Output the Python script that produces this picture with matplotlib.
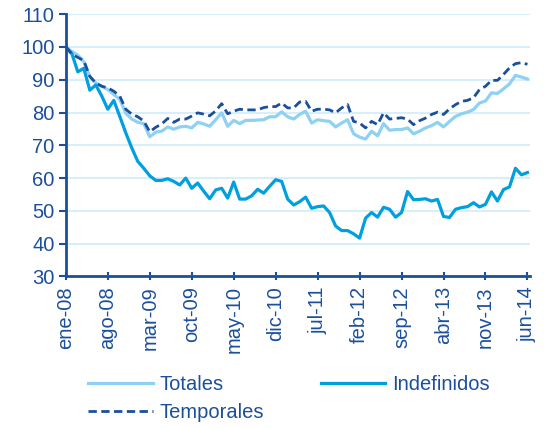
import numpy as np
import matplotlib
matplotlib.use('Agg')
import matplotlib.pyplot as plt

plt.rcParams['font.family'] = ['Liberation Sans', 'DejaVu Sans']

# Monthly index ene-08 .. jun-14 (base 100 = ene-08)
tick_labels = ['ene-08', 'ago-08', 'mar-09', 'oct-09', 'may-10', 'dic-10',
               'jul-11', 'feb-12', 'sep-12', 'abr-13', 'nov-13', 'jun-14']

totales = [100, 98.6, 97.5, 95.5, 91, 89, 88, 87, 85.5, 84,
           79.8, 78, 77, 76.6, 72.6, 74, 74.3, 75.6, 74.9, 75.6,
           75.8, 75.3, 77, 76.5, 75.8, 77.8, 79.9, 75.8, 77.6, 76.6,
           77.6, 77.6, 77.7, 77.8, 78.7, 78.7, 80.2, 78.7, 78, 79.4,
           80.4, 76.8, 77.8, 77.5, 77.3, 75.6, 76.8, 77.8, 73.5, 72.5,
           71.9, 74.3, 72.9, 76.6, 74.6, 74.8, 74.8, 75.3, 73.5, 74.3,
           75.3, 76, 77, 75.6, 77.3, 78.8, 79.6, 80.1, 80.9, 82.9,
           83.5, 86, 85.8, 87.2, 88.7, 91.3, 90.8, 90.2]

indefinidos = [100, 98, 92.4, 93.5, 86.8, 88.4, 85, 81, 83.7, 78.8,
               73.8, 69.2, 65.1, 63, 60.7, 59.3, 59.3, 59.8, 59, 57.9,
               60, 56.9, 58.5, 56, 53.7, 56.4, 56.9, 53.9, 58.8, 53.6,
               53.6, 54.6, 56.6, 55.4, 57.5, 59.5, 59, 53.6, 51.8, 52.8,
               54.2, 50.8, 51.3, 51.5, 49.5, 45.4, 44, 44, 43, 41.7,
               47.8, 49.5, 48.1, 51.1, 50.5, 48.1, 49.5, 55.9, 53.4, 53.5,
               53.7, 53, 53.5, 48.3, 48, 50.5, 51, 51.3, 52.5, 51.2,
               52, 55.8, 53, 56.5, 57.3, 63, 61, 61.7]

temporales = [100, 97.8, 96.8, 95.8, 91, 89, 88, 87.5, 86.5, 85,
              81, 79.5, 78.7, 77.4, 74.1, 75.5, 76.5, 78.2, 77, 78,
              78, 78.9, 79.9, 79.5, 79, 80.5, 82.7, 79.6, 80.4, 81,
              80.8, 80.8, 80.8, 81.5, 81.8, 81.8, 82.9, 81.4, 81.4, 83.2,
              83.4, 80.4, 81, 81, 80.8, 79.9, 81.4, 82.4, 77.3, 76.8,
              75.3, 77.3, 76.3, 79.9, 78, 78.2, 78.4, 78, 76.3, 77.5,
              78.3, 79.4, 80.1, 79.4, 81.1, 82.4, 83.4, 83.7, 84.5, 87,
              88, 89.8, 89.8, 91.6, 93.6, 94.9, 95.2, 94.7]

DARK = '#1B4F9C'
MID = '#009FDF'
LIGHT = '#8ED1F2'
GRID = '#CFECF9'
FS = 14.5

x = np.arange(len(totales))

fig = plt.figure(figsize=(5.44, 4.28), dpi=100)
ax = fig.add_axes([0.121, 0.354, 0.853, 0.613])

l1, = ax.plot(x, totales, color=LIGHT, lw=2.3, label='Totales')
l2, = ax.plot(x, indefinidos, color=MID, lw=2.3, label='Indefinidos')
l3, = ax.plot(x, temporales, color=DARK, lw=2.0, ls=(0, (3, 1.6)), label='Temporales')

ax.set_ylim(30, 110)
ax.set_yticks(range(30, 111, 10))
ax.set_xlim(0, 77.4)
ax.set_xticks(np.arange(0, 78, 7))
ax.set_xticklabels(tick_labels, rotation=90)

ax.grid(axis='y', color=GRID, lw=1.2)
ax.set_axisbelow(True)
for s in ['top', 'right']:
    ax.spines[s].set_visible(False)
ax.spines['left'].set_color(DARK)
ax.spines['left'].set_linewidth(2)
ax.spines['bottom'].set_color(DARK)
ax.spines['bottom'].set_linewidth(2)
ax.tick_params(axis='y', colors=DARK, labelsize=FS, length=5, width=1.5,
               direction='out', pad=3)
ax.tick_params(axis='x', colors=DARK, labelsize=FS, length=6, width=1.5,
               direction='inout', pad=4)

fig.legend([l1, l3, l2], ['Totales', 'Temporales', 'Indefinidos'], ncol=2,
           loc='upper left', bbox_to_anchor=(0.162, 0.124), frameon=False,
           fontsize=FS, handlelength=3.2, columnspacing=2.8, labelspacing=0.45,
           labelcolor=DARK, handletextpad=0.35, borderaxespad=0, borderpad=0)

fig.savefig('out.png', dpi=100)
